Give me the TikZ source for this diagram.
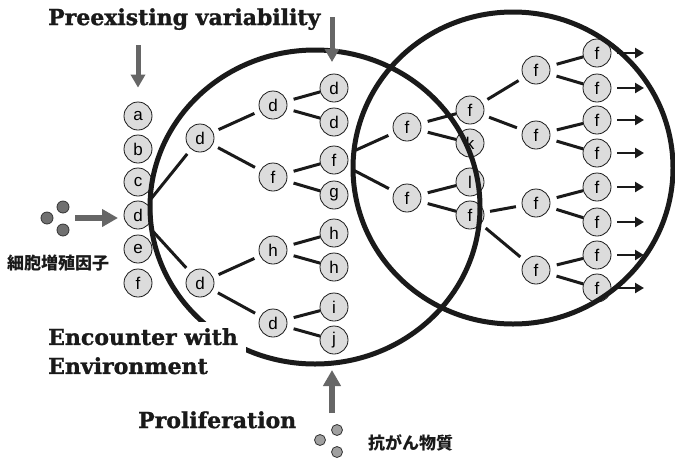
\documentclass[tikz,border=0pt]{standalone}
\usepackage{fontspec}
\setmainfont{DejaVu Serif}
\setsansfont{Liberation Sans}
\newfontfamily\headfont{DejaVu Serif Bold}[FakeBold=1.2]
\newfontfamily\cjkfont{Noto Sans CJK JP}
\usetikzlibrary{arrows.meta}
\definecolor{cellfill}{HTML}{DCDCDC}
\definecolor{arrowgray}{HTML}{666666}
\definecolor{dotdark}{HTML}{707070}
\definecolor{dotlight}{HTML}{A0A0A0}
\definecolor{ink}{HTML}{1A1A1A}
\begin{document}
\begin{tikzpicture}[x=1pt,y=-1pt,
  cell/.style={circle,draw=ink,line width=0.8pt,fill=cellfill,minimum size=28pt,inner sep=0pt,
    font=\sffamily\fontsize{17}{17}\selectfont},
  link/.style={line width=3pt,draw=ink,shorten <=6pt,shorten >=6pt},
  linkt/.style={line width=3pt,draw=ink,shorten <=7pt,shorten >=0pt},
  ring/.style={line width=5pt,draw=ink},
  grayarrow/.style={draw=arrowgray,line width=6.5pt,-{Triangle[length=16pt,width=17pt]}},
  smallgray/.style={draw=arrowgray,line width=5pt,-{Triangle[length=13pt,width=14pt]}},
  outarrow/.style={draw=ink,line width=2.8pt,shorten <=6pt,-{Triangle[length=9pt,width=10pt]}},
  heading/.style={font=\headfont\fontsize{22}{29}\selectfont,inner sep=0pt,anchor=base west,text=ink},
  cjklabel/.style={font=\cjkfont\bfseries\fontsize{17}{17}\selectfont,inner sep=0pt,anchor=west,text=ink},
  dotA/.style={circle,draw=black!80,line width=0.8pt,fill=dotdark,minimum size=12pt,inner sep=0pt},
  dotB/.style={circle,draw=black!80,line width=0.8pt,fill=dotlight,minimum size=11pt,inner sep=0pt}
]
\useasboundingbox[fill=white] (0,0) rectangle (675,459);

% preexisting population
\node[cell] (a1) at (138,116) {a};
\node[cell] (a2) at (138,149) {b};
\node[cell] (a3) at (138,182) {c};
\node[cell] (a4) at (138,215) {d};
\node[cell] (a5) at (138,249) {e};
\node[cell] (a6) at (138,283) {f};

% first divisions
\node[cell] (b1) at (200,138) {d};
\node[cell] (b2) at (200,283) {d};
\node[cell] (c1) at (273,105) {d};
\node[cell] (c2) at (273,177) {f};
\node[cell] (c3) at (273,250) {h};
\node[cell] (c4) at (273,323) {d};
\node[cell] (e1) at (334,88) {d};
\node[cell] (e2) at (334,122) {d};
\node[cell] (e3) at (334,160) {f};
\node[cell] (e4) at (334,195) {g};
\node[cell] (e5) at (334,233) {h};
\node[cell] (e6) at (334,267) {h};
\node[cell] (e7) at (334,307) {i};
\node[cell] (e8) at (334,340) {j};

% proliferating clone
\node[cell] (f1) at (407,127) {f};
\node[cell] (f2) at (407,198) {f};
\node[cell] (g1) at (470,110) {f};
\node[cell] (g2) at (470,143) {k};
\node[cell] (g3) at (470,182) {l};
\node[cell] (g4) at (470,215) {f};
\node[cell] (h1) at (536,70) {f};
\node[cell] (h2) at (536,135) {f};
\node[cell] (h3) at (536,203) {f};
\node[cell] (h4) at (536,270) {f};
\node[cell] (k1) at (597,53) {f};
\node[cell] (k2) at (597,88) {f};
\node[cell] (k3) at (597,120) {f};
\node[cell] (k4) at (597,153) {f};
\node[cell] (k5) at (597,187) {f};
\node[cell] (k6) at (597,222) {f};
\node[cell] (k7) at (597,255) {f};
\node[cell] (k8) at (597,288) {f};

% lineage links
\draw[link] (a4) -- (b1);
\draw[link] (a4) -- (b2);
\draw[link] (b1) -- (c1);
\draw[link] (b1) -- (c2);
\draw[link] (b2) -- (c3);
\draw[link] (b2) -- (c4);
\draw[linkt] (c1) -- (e1);
\draw[linkt] (c1) -- (e2);
\draw[linkt] (c2) -- (e3);
\draw[linkt] (c2) -- (e4);
\draw[linkt] (c3) -- (e5);
\draw[linkt] (c3) -- (e6);
\draw[linkt] (c4) -- (e7);
\draw[linkt] (c4) -- (e8);
\draw[link] (e3) -- (f1);
\draw[link] (e3) -- (f2);
\draw[linkt] (f1) -- (g1);
\draw[linkt] (f1) -- (g2);
\draw[linkt] (f2) -- (g3);
\draw[linkt] (f2) -- (g4);
\draw[link] (g1) -- (h1);
\draw[link] (g1) -- (h2);
\draw[link] (g4) -- (h3);
\draw[link] (g4) -- (h4);
\draw[linkt] (h1) -- (k1);
\draw[linkt] (h1) -- (k2);
\draw[linkt] (h2) -- (k3);
\draw[linkt] (h2) -- (k4);
\draw[linkt] (h3) -- (k5);
\draw[linkt] (h3) -- (k6);
\draw[linkt] (h4) -- (k7);
\draw[linkt] (h4) -- (k8);

% outgoing arrows
\foreach \i/\y in {1/53,2/88,3/120,4/153,5/187,6/222,7/255,8/288}
  \coordinate (z\i) at (644,\y);
\foreach \i in {1,...,8}
  \draw[outarrow] (k\i.east) -- (z\i);

% environment rings
\draw[ring] (315,207) ellipse [x radius=165pt, y radius=157pt];
\draw[ring] (513,168) ellipse [x radius=160pt, y radius=156pt];

% gray input arrows
\coordinate (pa) at (138,45);
\coordinate (pb) at (332,17);
\coordinate (pbt) at (332,62);
\coordinate (ga) at (75,218);
\coordinate (gat) at (118,218);
\coordinate (da) at (332,413);
\coordinate (dat) at (332,370);
\draw[smallgray,shorten >=14pt] (pa) -- (a1.north);
\draw[smallgray] (pb) -- (pbt);
\draw[grayarrow] (ga) -- (gat);
\draw[grayarrow] (da) -- (dat);

% growth factor and drug molecules
\node[dotA] (m1) at (47,218) {};
\node[dotA] (m2) at (63,207) {};
\node[dotA] (m3) at (63,230) {};
\node[dotB] (n1) at (320,440) {};
\node[dotB] (n2) at (337,430) {};
\node[dotB] (n3) at (337,452) {};

% labels
\node[heading] (pre) at (48,25) {Preexisting variability};
\node[font=\headfont\fontsize{22}{29}\selectfont,text=ink,fill=white,align=left,
  inner xsep=8pt,inner ysep=6pt,anchor=north west] (env) at (40,322) {Encounter with\\Environment};
\node[heading] (pro) at (138,428) {Proliferation};
\node[cjklabel] (gf) at (7,263) {細胞増殖因子};
\node[cjklabel] (drug) at (368,443) {抗がん物質};
\end{tikzpicture}
\end{document}
